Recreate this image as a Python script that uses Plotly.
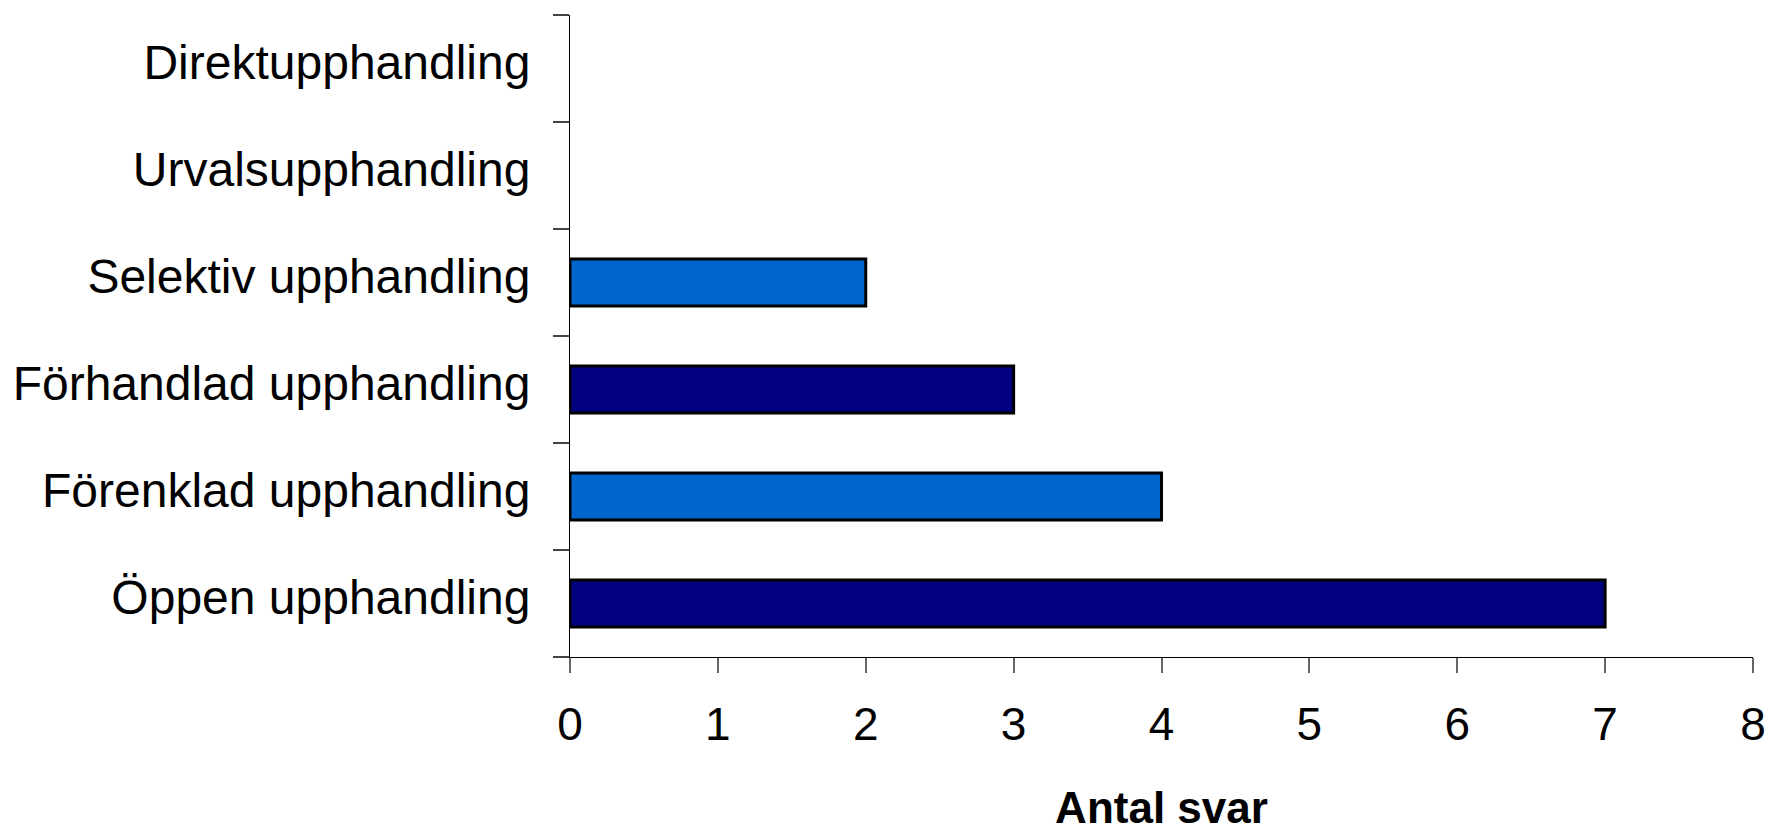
import plotly.graph_objects as go

categories = ["Öppen upphandling", "Förenklad upphandling", "Förhandlad upphandling",
              "Selektiv upphandling", "Urvalsupphandling", "Direktupphandling"]
values = [7, 4, 3, 2, 0, 0]
bar_colors = ["#000080", "#0066CC", "#000080", "#0066CC", "#000080", "#0066CC"]
x_ticks = [0, 1, 2, 3, 4, 5, 6, 7, 8]
x_title = "Antal svar"

FONT = "Liberation Sans, Arial, sans-serif"

# no outline for empty categories (zero-length bars)
line_widths = [3 if v > 0 else 0 for v in values]

fig = go.Figure(go.Bar(
    x=values, y=categories, orientation="h",
    marker=dict(color=bar_colors, line=dict(color="black", width=line_widths)),
    width=0.44,
))

fig.update_layout(
    width=1773, height=830,
    margin=dict(l=562, r=28, t=7, b=181),
    plot_bgcolor="white", paper_bgcolor="white",
    showlegend=False,
    font=dict(family=FONT, color="black"),
)

fig.update_xaxes(
    range=[0, 8], tickvals=x_ticks, ticktext=[str(v) for v in x_ticks],
    showgrid=False, zeroline=False, automargin=False,
    showline=True, linecolor="black", linewidth=1,
    ticks="outside", ticklen=15, tickcolor="#666666", tickwidth=1.5,
    tickfont=dict(size=46, family=FONT),
    ticklabelstandoff=12,
    title=dict(text="<b>" + x_title + "</b>", font=dict(size=44, family=FONT), standoff=42),
)

fig.update_yaxes(
    type="category", categoryorder="array", categoryarray=categories,
    range=[-0.5, 5.5],
    showgrid=False, zeroline=False, automargin=False,
    showline=True, linecolor="black", linewidth=1,
    ticks="outside", ticklen=16, tickcolor="#444444", tickwidth=1.5,
    tickson="boundaries",
    tickfont=dict(size=48, family=FONT),
    ticklabelstandoff=29,
    ticklabelshift=-6,
)

fig.write_html("out.html")
